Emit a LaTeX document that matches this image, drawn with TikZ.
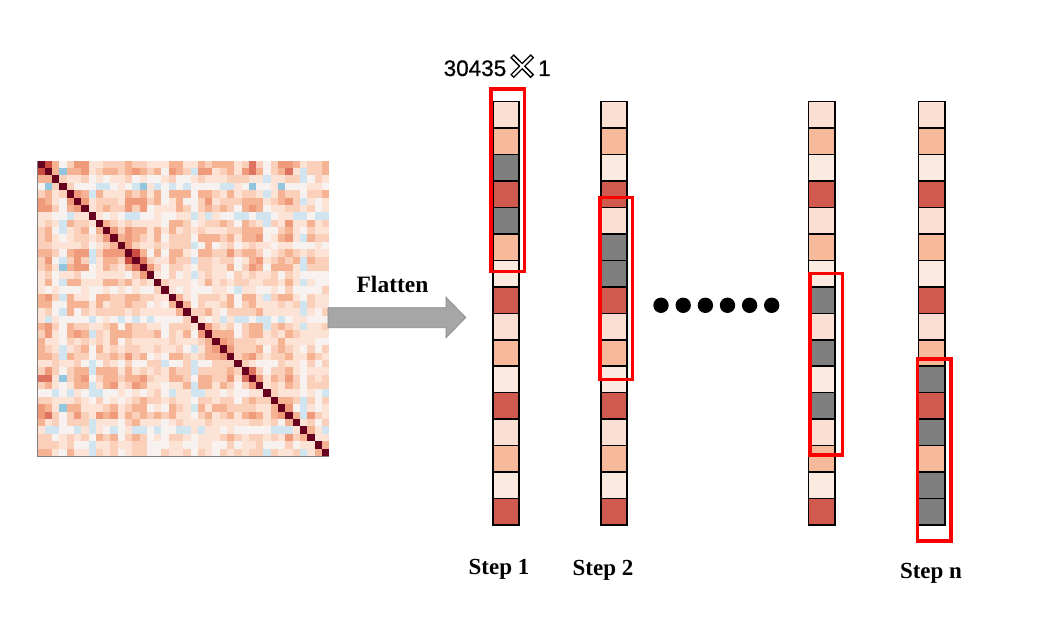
\documentclass[tikz,border=0pt]{standalone}
\usepackage{fontspec}
\setmainfont{Liberation Serif}
\newfontfamily\labelsans[FakeBold=0.6]{Liberation Sans}
\newfontfamily\djv{DejaVu Sans}
\definecolor{colL}{HTML}{FADFD2}
\definecolor{colS}{HTML}{F6BA9A}
\definecolor{colV}{HTML}{FBEAE0}
\definecolor{colR}{HTML}{D05A4E}
\definecolor{colG}{HTML}{7F7F7F}
\definecolor{hm0}{HTML}{92C5DE}
\definecolor{hm1}{HTML}{D1E5F0}
\definecolor{hm2}{HTML}{F7F2EF}
\definecolor{hm3}{HTML}{FCE3D6}
\definecolor{hm4}{HTML}{FBD0BB}
\definecolor{hm5}{HTML}{F6B394}
\definecolor{hm6}{HTML}{F09A7C}
\definecolor{hm7}{HTML}{DE7460}
\definecolor{hm8}{HTML}{CC4C41}
\definecolor{hm9}{HTML}{B2182B}
\definecolor{hmD}{HTML}{67001F}
\definecolor{arrowfill}{HTML}{A6A6A6}
\definecolor{arrowedge}{HTML}{8C8C8C}
\newcommand\xglyph{\raisebox{-4pt}{\special{pdf:literal direct 1 Tr 1.3 w}{\djv\fontsize{38}{38}\selectfont ✕}\special{pdf:literal direct 0 Tr}}}
\newcommand\stripcol[3]{%
  \foreach \c [count=\n] in {#3} {\node[cell,fill=col\c] (#1-\n) at (#2,{101.7+26.45*(\n-0.5)}) {};}}
\def\load{{0.7,0.75,0.2,-0.15,0.55,0.65,0.6,0.0,0.45,0.5,0.55,0.35,0.7,0.6,0.65,0.2,0.4,0.1,0.5,0.45,0.3,-0.1,0.55,0.6,0.35,0.5,0.6,0.25,0.45,0.7,0.55,0.1,0.4,0.5,0.65,0.3,-0.05,0.45,0.2,0.35}}
\begin{document}
\begin{tikzpicture}[x=1pt,y=-1pt,
  cell/.style={draw=black,line width=1.6pt,minimum width=26.3pt,minimum height=26.45pt,inner sep=0pt,outer sep=0pt},
  redbox/.style={draw=red,line width=3.3pt},
  dot/.style={circle,fill=black,minimum size=15.4pt,inner sep=0pt},
  steplabel/.style={font=\bfseries\fontsize{23}{27}\selectfont,anchor=base,inner sep=0pt}]
\useasboundingbox[fill=white] (0,0) rectangle (1041,636);
% heatmap
\pgfmathsetseed{11}
\begin{scope}
\clip (37.5,160.7) rectangle (329,456);
\foreach \i in {0,...,39}{
  \foreach \j in {0,...,\i}{
    \ifnum\i=\j
      \fill[hmD] ({37.5+\j*7.29},{160.7+\i*7.38}) rectangle ++(7.6,7.6);
    \else
      \pgfmathsetmacro\bi{\load[\i]}
      \pgfmathsetmacro\bj{\load[\j]}
      \pgfmathsetmacro\v{0.9*\bi*\bj+0.3*rnd-0.05}
      \pgfmathtruncatemacro\d{\i-\j}
      \ifnum\d<3 \pgfmathsetmacro\v{\v+0.4*exp(-\d*\d/1.5)}\fi
      \pgfmathtruncatemacro\k{max(0,min(9,floor((\v+0.22)/0.12)))}
      \fill[hm\k] ({37.5+\j*7.29},{160.7+\i*7.38}) rectangle ++(7.6,7.6);
      \fill[hm\k] ({37.5+\i*7.29},{160.7+\j*7.38}) rectangle ++(7.6,7.6);
    \fi
  }
}
\end{scope}
\draw[gray,line width=0.8pt] (37.5,160.7) -- (37.5,456) -- (329,456);
% arrow
\draw[fill=arrowfill,draw=arrowedge,line width=0.8pt]
  (328,307.7) -- (446,307.7) -- (446,297.3) -- (465.7,317.5) -- (446,337.7) -- (446,327.7) -- (328,327.7) -- cycle;
\node[font=\bfseries\fontsize{23.5}{27}\selectfont,anchor=base,inner sep=0pt] (flat) at (392.5,292) {Flatten};
% columns
\stripcol{s1}{505.85}{L,S,G,R,G,S,V,R,L,S,V,R,L,S,V,R}
\stripcol{s2}{614}{L,S,V,R,L,G,G,R,L,S,V,R,L,S,V,R}
\stripcol{s3}{821.65}{L,S,V,R,L,S,V,G,L,G,V,G,L,S,V,R}
\stripcol{s4}{931.65}{L,S,V,R,L,S,V,R,L,S,G,R,G,S,G,G}
% windows
\draw[redbox] (491,89) rectangle (524.3,271.6);
\draw[redbox] (600,197.7) rectangle (632.6,379.3);
\draw[redbox] (810,273.4) rectangle (842.6,455);
\draw[redbox] (917.7,359) rectangle (951,541);
% dots
\foreach \x [count=\n] in {661,683.2,705.4,727.5,749.6,771.7}
  \node[dot] (dot\n) at (\x,305.3) {};
% labels
\node[anchor=base west,inner sep=0pt,font=\labelsans\fontsize{22.5}{26}\selectfont] (dims) at (443.5,76) {30435\xglyph1};
\node[steplabel] (st1) at (499,574) {Step 1};
\node[steplabel] (st2) at (603,575) {Step 2};
\node[steplabel] (stn) at (931,578) {Step n};
\end{tikzpicture}
\end{document}
